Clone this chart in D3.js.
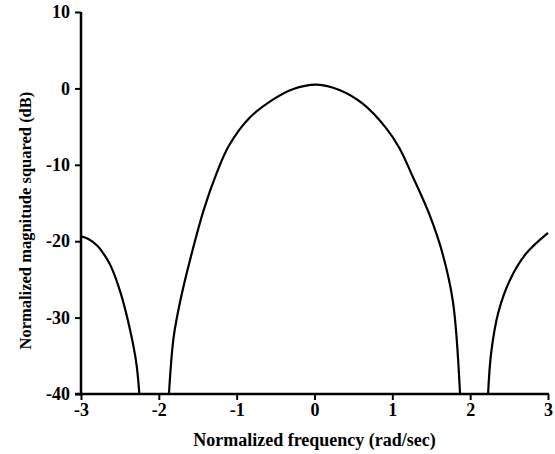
<!DOCTYPE html>
<html>
<head>
<meta charset="utf-8">
<script src="https://cdn.jsdelivr.net/npm/d3@7"></script>
<style>
  body { margin: 0; background: #fff; }
  .tick text { font-family: "Liberation Serif", serif; font-weight: bold; font-size: 18px; }
  .label { font-family: "Liberation Serif", serif; font-weight: bold; font-size: 18px; }
</style>
</head>
<body>
<div id="wrapper"></div>
<script>
// data (frequency in rad/sec, level in dB)
const leftLobeFreq = [-3.0, -2.9, -2.79, -2.70, -2.62, -2.49, -2.37, -2.29, -2.25]
const leftLobeDb   = [-19.35, -19.75, -20.6, -21.8, -23.2, -26.8, -31.6, -35.9, -40]

const mainLobeFreq = [-1.87, -1.81, -1.72, -1.58, -1.42, -1.25, -1.10, -0.84, -0.54, -0.28, 0.03, 0.32, 0.62, 0.92, 1.09, 1.26, 1.48, 1.65, 1.78, 1.87]
const mainLobeDb   = [-40, -32.6, -27.6, -21.7, -15.8, -10.9, -7.5, -3.9, -1.5, -0.1, 0.5, -0.2, -2.0, -5.2, -7.8, -11.5, -16.6, -21.8, -28.0, -40]

const rightLobeFreq = [2.23, 2.27, 2.36, 2.51, 2.72, 3.0]
const rightLobeDb   = [-40, -34.6, -29.4, -25.1, -21.6, -18.9]

const xTicks = [-3, -2, -1, 0, 1, 2, 3]
const yTicks = [-40, -30, -20, -10, 0, 10]

function drawChart() {
  let dimensions = {
    width: 555,
    height: 454,
    margin: { top: 12, right: 7, bottom: 58, left: 81 },
  }
  dimensions.boundedWidth = dimensions.width - dimensions.margin.left - dimensions.margin.right
  dimensions.boundedHeight = dimensions.height - dimensions.margin.top - dimensions.margin.bottom

  const wrapper = d3.select("#wrapper")
    .append("svg")
      .attr("width", dimensions.width)
      .attr("height", dimensions.height)

  const bounds = wrapper.append("g")
      .attr("transform", `translate(${dimensions.margin.left},${dimensions.margin.top})`)

  const xScale = d3.scaleLinear().domain([-3, 3]).range([0, 467])
  const yScale = d3.scaleLinear().domain([-40, 10]).range([dimensions.boundedHeight - 2, 0])

  const line = d3.line()
    .x(d => xScale(d[0]))
    .y(d => yScale(d[1]))
    .curve(d3.curveCatmullRom.alpha(0.5))

  const segments = [
    d3.zip(leftLobeFreq, leftLobeDb),
    d3.zip(mainLobeFreq, mainLobeDb),
    d3.zip(rightLobeFreq, rightLobeDb),
  ]

  bounds.selectAll(".lobe")
    .data(segments)
    .join("path")
      .attr("class", "lobe")
      .attr("d", line)
      .attr("fill", "none")
      .attr("stroke", "#000")
      .attr("stroke-width", 2.2)

  // axes
  const fmt = d => String(d)   // plain hyphen, like the original
  const xAxis = bounds.append("g")
      .attr("transform", `translate(0,${yScale(-40)})`)
      .call(d3.axisBottom(xScale).tickValues(xTicks).tickSize(6).tickPadding(3).tickFormat(fmt))
  const yAxis = bounds.append("g")
      .call(d3.axisLeft(yScale).tickValues(yTicks).tickSize(6).tickPadding(5).tickFormat(fmt))

  for (const ax of [xAxis, yAxis]) {
    ax.select(".domain").attr("stroke-width", 2.5)
    ax.selectAll(".tick line").attr("stroke-width", 2)
    ax.selectAll(".tick text").attr("fill", "#000")
  }
  // plain axis lines, no end caps
  xAxis.select(".domain").attr("d", `M${xScale(-3) - 6},0H${xScale(3) + 1}`)
  yAxis.select(".domain").attr("d", `M0,${yScale(10)}V${yScale(-40)}`)

  bounds.append("text")
      .attr("class", "label")
      .attr("x", xScale(0))
      .attr("y", yScale(-40) + 52)
      .attr("text-anchor", "middle")
      .text("Normalized frequency (rad/sec)")

  bounds.append("text")
      .attr("class", "label")
      .style("font-size", "16.5px")
      .attr("transform", `translate(${-50},${yScale(-17.3)}) rotate(-90)`)
      .attr("text-anchor", "middle")
      .text("Normalized magnitude squared (dB)")
}

drawChart()
</script>
</body>
</html>
